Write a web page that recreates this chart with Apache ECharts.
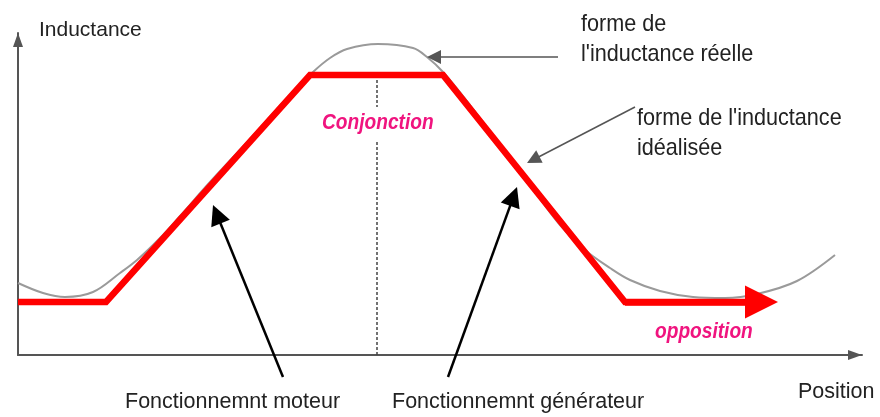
<!DOCTYPE html>
<html>
<head>
<meta charset="utf-8">
<title>Inductance</title>
<script src="https://cdn.jsdelivr.net/npm/echarts@6/dist/echarts.min.js"></script>
<style>
  html, body { margin: 0; padding: 0; background: #fff; }
  #chart { width: 880px; height: 417px; }
</style>
</head>
<body>
<div id="chart"></div>
<script>
// axis ranges (position units / inductance units)
const xRange = [0, 844]
const yRange = [0, 322]

const reelX = [0, 25, 47, 75, 102, 119, 142, 162, 192, 232, 272, 295, 312, 329, 360, 395, 409, 425, 452, 482, 512, 542, 567, 592, 612, 642, 675, 707, 739, 779, 817]
const reelY = [72, 62, 58, 63, 82, 95, 117, 139, 173, 216, 260, 283, 297, 306, 311, 307, 298, 283, 250, 210, 170, 130, 105, 87, 75, 64, 58, 57, 61, 74, 100]

// idealised inductance (red trapezoid)
const idealX = [0, 88, 292, 425, 607, 760]
const idealY = [53, 53, 280, 280, 53, 53]

// conjunction marker (dashed vertical), two pieces around the label
const conjX = 359
const conjPieces = [[280, 248], [213, 0]]

// annotation arrows [fromX, fromY, tipX, tipY]
const arrowReelle = [540, 298, 409, 298]
const arrowIdeale = [617, 248, 509, 192]
const arrowMoteur = [265, -22, 195, 150]
const arrowGenerateur = [430, -22, 499, 168]

const chart = echarts.init(document.getElementById('chart'))

const toPairs = (xs, ys) => xs.map((x, i) => [x, ys[i]])
// triangle symbols sit centred on the end point, so stop the segment
// half a head short of the tip (1 unit = 1px on both axes here)
const arrowSeg = (a, head) => {
  const dx = a[2] - a[0]
  const dy = a[3] - a[1]
  const len = Math.hypot(dx, dy)
  const k = head / 2 / len
  return { coords: [[a[0], a[1]], [a[2] - dx * k, a[3] - dy * k]] }
}
const n = idealX.length
const redArrow = arrowSeg([idealX[n - 2], idealY[n - 2], idealX[n - 1], idealY[n - 1]], 33)
const redLine = toPairs(idealX, idealY).slice(0, -1).concat([redArrow.coords[1]])

const regular = "'Liberation Sans', Arial, sans-serif"
const pink = '#f0147f'

// x/y is the top-left corner of the text; sx squeezes it horizontally
const txt = (text, x, y, size, color, sx, extra) => ({
  type: 'text',
  x: x,
  y: y,
  scaleX: sx,
  style: Object.assign({
    text: text,
    fontFamily: regular,
    fontSize: size,
    fill: color,
    align: 'left',
    verticalAlign: 'top'
  }, extra || {})
})

const axisLine = {
  show: true,
  onZero: false,
  symbol: ['none', 'triangle'],
  symbolSize: [10, 14],
  symbolOffset: [0, -7],
  lineStyle: { color: '#555', width: 2 }
}

const option = {
  animation: false,
  grid: { left: 18, right: 18, top: 33, bottom: 62 },
  xAxis: {
    type: 'value',
    min: xRange[0],
    max: xRange[1],
    axisLine: axisLine,
    axisTick: { show: false },
    axisLabel: { show: false },
    splitLine: { show: false }
  },
  yAxis: {
    type: 'value',
    min: yRange[0],
    max: yRange[1],
    axisLine: axisLine,
    axisTick: { show: false },
    axisLabel: { show: false },
    splitLine: { show: false }
  },
  series: [
    {
      name: 'reelle',
      type: 'line',
      data: toPairs(reelX, reelY),
      smooth: 0.35,
      showSymbol: false,
      lineStyle: { color: '#9a9a9a', width: 2 },
      z: 2
    },
    {
      name: 'conjonction',
      type: 'lines',
      coordinateSystem: 'cartesian2d',
      clip: false,
      data: conjPieces.map(p => ({ coords: [[conjX, p[0]], [conjX, p[1]]] })),
      lineStyle: { color: '#444', width: 1.5, type: [3, 2], opacity: 1 },
      z: 1
    },
    {
      name: 'ideale',
      type: 'line',
      data: redLine,
      showSymbol: false,
      lineStyle: { color: '#ff0000', width: 6.5, join: 'miter', cap: 'butt' },
      z: 3
    },
    {
      name: 'ideale fleche',
      type: 'lines',
      coordinateSystem: 'cartesian2d',
      clip: false,
      symbol: ['none', 'triangle'],
      symbolSize: [20, 33],
      data: [redArrow],
      lineStyle: { color: '#ff0000', width: 6.5, opacity: 1 },
      z: 3
    },
    {
      name: 'fleches grises',
      type: 'lines',
      coordinateSystem: 'cartesian2d',
      clip: false,
      symbol: ['none', 'triangle'],
      symbolSize: [9, 14],
      data: [arrowSeg(arrowReelle, 14), arrowSeg(arrowIdeale, 14)],
      lineStyle: { color: '#555', width: 1.5, opacity: 1 },
      z: 4
    },
    {
      name: 'fleches noires',
      type: 'lines',
      coordinateSystem: 'cartesian2d',
      clip: false,
      symbol: ['none', 'triangle'],
      symbolSize: [13, 20],
      data: [arrowSeg(arrowMoteur, 20), arrowSeg(arrowGenerateur, 20)],
      lineStyle: { color: '#000', width: 2.5, opacity: 1 },
      z: 4
    }
  ],
  graphic: [
    txt('Inductance', 39, 20, 21, '#222', 1),
    txt('forme de', 581, 12, 24, '#222', 0.9),
    txt("l'inductance réelle", 581, 42, 24, '#222', 0.9),
    txt("forme de l'inductance", 637, 106, 24, '#222', 0.9),
    txt('idéalisée', 637, 136, 24, '#222', 0.9),
    txt('Conjonction', 322, 112, 22, pink, 0.87, { fontWeight: 'bold', fontStyle: 'italic' }),
    txt('opposition', 655, 321, 22, pink, 0.87, { fontWeight: 'bold', fontStyle: 'italic' }),
    txt('Fonctionnemnt moteur', 125, 391, 21.5, '#222', 1),
    txt('Fonctionnemnt générateur', 392, 391, 21.5, '#222', 1),
    txt('Position', 798, 381, 21.5, '#222', 1)
  ]
}

chart.setOption(option)
window.addEventListener('resize', () => chart.resize())
</script>
</body>
</html>
